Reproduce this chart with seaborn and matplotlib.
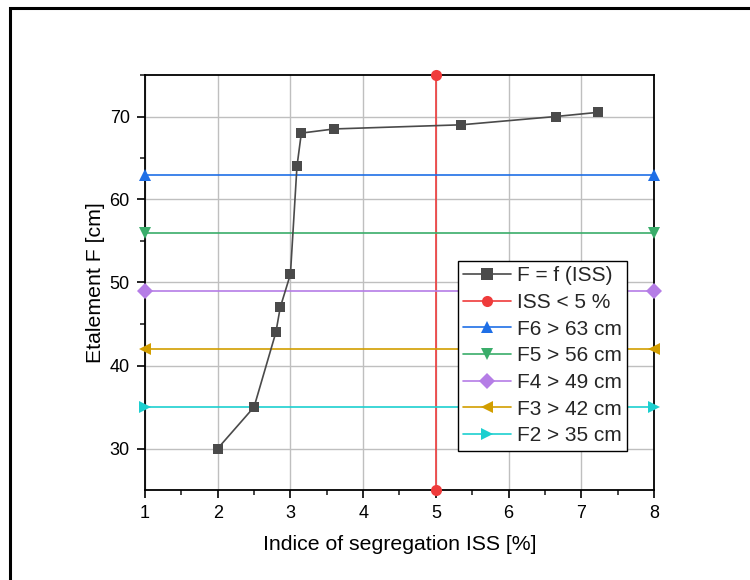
import matplotlib
matplotlib.use("Agg")
import matplotlib.pyplot as plt
import seaborn as sns
import pandas as pd
from matplotlib.patches import Rectangle

# ---- data ----
iss = [2.0, 2.5, 2.8, 2.86, 3.0, 3.09, 3.15, 3.6, 5.35, 6.65, 7.23]
spread = [30, 35, 44, 47, 51, 64, 68, 68.5, 69, 70, 70.5]

iss_limit_x = [5, 5]
iss_limit_y = [25, 75]

threshold_x = [1, 8]
thresholds = [63, 56, 49, 42, 35]
threshold_labels = ["F6 > 63 cm", "F5 > 56 cm", "F4 > 49 cm", "F3 > 42 cm", "F2 > 35 cm"]
threshold_colors = ["#1f6fe6", "#3aad6a", "#b57de6", "#d29e00", "#1ccfcf"]
threshold_markers = ["^", "v", "D", "<", ">"]

x_ticks = [1, 2, 3, 4, 5, 6, 7, 8]
y_ticks = [30, 40, 50, 60, 70]

sns.set_theme(style="white")
plt.rcParams["font.family"] = ["Liberation Sans", "DejaVu Sans"]

fig = plt.figure(figsize=(7.5, 5.8), dpi=100)
ax = fig.add_axes([145/750, 1-490/580, (654-145)/750, (490-75)/580])

# outer frame
fig.patches.append(Rectangle((10/750, -0.2), 1.2, 1.2 - 8/580, transform=fig.transFigure,
                             fill=False, edgecolor="black", linewidth=2.2, zorder=0))

ax.grid(True, which="major", color="#bfbfbf", linewidth=1.0)
ax.set_axisbelow(True)

lw = 1.2
ms = 7

sns.lineplot(x=iss, y=spread, ax=ax, color="#4a4a4a", marker="s", markersize=ms,
             markeredgewidth=0, linewidth=lw, label="F = f (ISS)", sort=False,
             clip_on=False, zorder=5)
sns.lineplot(x=iss_limit_x, y=iss_limit_y, ax=ax, color="#ef3b3b", marker="o", markersize=ms + 1,
             markeredgewidth=0, linewidth=lw, label="ISS < 5 %", sort=False,
             clip_on=False, zorder=4, estimator=None)
for val, lab, col, mk in zip(thresholds, threshold_labels, threshold_colors, threshold_markers):
    sns.lineplot(x=threshold_x, y=[val, val], ax=ax, color=col, marker=mk,
                 markersize=ms + 2 if mk != "D" else ms + 1,
                 markeredgewidth=0, linewidth=lw, label=lab, sort=False,
                 clip_on=False, zorder=4)

ax.set_xlim(1, 8)
ax.set_ylim(25, 75)
ax.set_xticks(x_ticks)
ax.set_yticks(y_ticks)
ax.set_xticks([1.5, 2.5, 3.5, 4.5, 5.5, 6.5, 7.5], minor=True)
ax.set_yticks([35, 45, 55, 65, 75], minor=True)
ax.tick_params(axis="both", which="major", direction="out", length=6, width=1.2,
               labelsize=13, colors="black", bottom=True, left=True, pad=5)
ax.tick_params(axis="both", which="minor", direction="out", length=3.5, width=1.2,
               bottom=True, left=True)
for s in ax.spines.values():
    s.set_color("black")
    s.set_linewidth(1.3)

ax.set_xlabel("Indice of segregation ISS [%]", fontsize=15.3, labelpad=9, color="black")
ax.set_ylabel("Etalement F [cm]", fontsize=15.3, labelpad=3, color="black")

leg = ax.legend(loc="upper left", bbox_to_anchor=((458-145)/509, (490-261)/415),
                borderaxespad=0, fontsize=15, frameon=True, fancybox=False,
                handlelength=2.3, handletextpad=0.3, labelspacing=0.37,
                borderpad=0.25, framealpha=1)
leg.get_frame().set_edgecolor("black")
leg.get_frame().set_linewidth(1.0)
leg.set_zorder(10)
for h in leg.legend_handles:
    try:
        h.set_markersize(8)
    except Exception:
        pass

fig.savefig("out.png", dpi=100)
